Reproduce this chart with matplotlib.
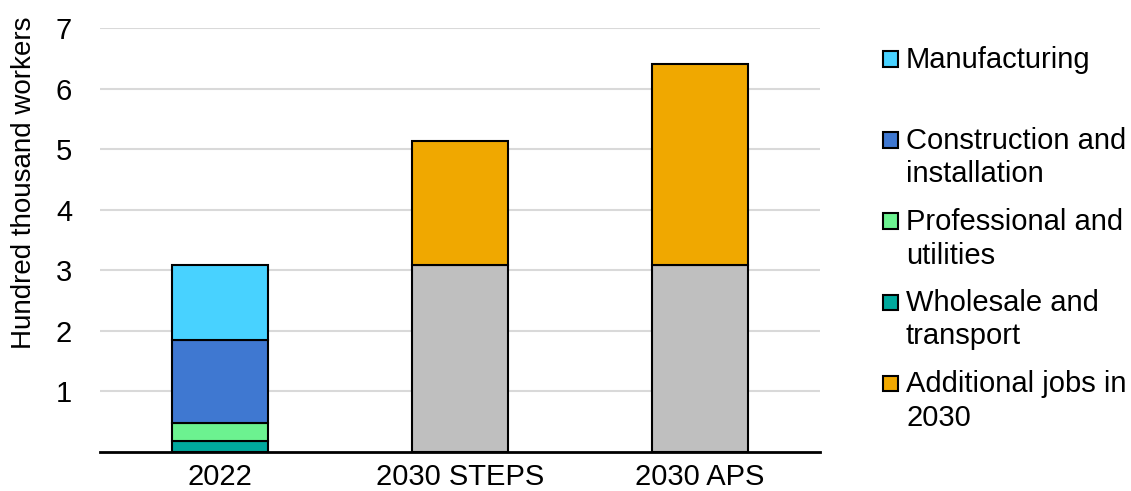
import matplotlib
matplotlib.use("Agg")
import matplotlib.pyplot as plt
import numpy as np
from matplotlib.patches import Rectangle

plt.rcParams['font.family'] = ['Liberation Sans', 'DejaVu Sans']

categories = ['2022', '2030 STEPS', '2030 APS']
wholesale = [0.18, 0, 0]
professional = [0.30, 0, 0]
construction = [1.37, 0, 0]
manufacturing = [1.24, 0, 0]
existing_jobs = [0, 3.09, 3.09]
additional = [0, 2.04, 3.31]

series = [
    ('Wholesale and\ntransport', wholesale, '#00A99D', True),
    ('Professional and\nutilities', professional, '#6CF290', True),
    ('Construction and\ninstallation', construction, '#3F78D1', True),
    ('Manufacturing', manufacturing, '#48D2FF', True),
    ('Existing jobs', existing_jobs, '#BFBFBF', False),
    ('Additional jobs in\n2030', additional, '#F0A800', True),
]

W, H = 1131, 491
fig = plt.figure(figsize=(W / 100, H / 100), dpi=100)
ax = fig.add_axes([100 / W, (H - 452) / H, 720 / W, (452 - 28) / H])

x = np.arange(len(categories))
bottom = np.zeros(len(categories))
for name, vals, col, _ in series:
    v = np.array(vals, dtype=float)
    mask = v > 0
    ax.bar(x[mask], v[mask], bottom=bottom[mask], width=0.4, color=col,
           edgecolor='black', linewidth=1.5, zorder=3)
    bottom += v

ax.set_xlim(-0.5, 2.5)
ax.set_ylim(0, 7)
ax.set_yticks(range(1, 8))
ax.set_xticks(x)
ax.set_xticklabels(categories)
ax.tick_params(axis='both', length=0, labelsize=21)
ax.tick_params(axis='y', pad=20)
ax.tick_params(axis='x', pad=8)
ax.grid(axis='y', color='#D9D9D9', linewidth=1.5, zorder=0)
for s in ['top', 'right', 'left']:
    ax.spines[s].set_visible(False)
ax.spines['bottom'].set_linewidth(2)
ax.spines['bottom'].set_zorder(4)
fig.text(24 / W, (H - 183) / H, 'Hundred thousand workers', fontsize=20,
         rotation=90, ha='center', va='center')

# Manual legend (Excel style, equal spacing)
legend_items = [series[3], series[2], series[1], series[0], series[5]]
top0 = 49
step = 81
for i, (name, vals, col, _) in enumerate(legend_items):
    ytop = top0 + i * step
    yc = ytop + 10
    fig.patches.append(Rectangle((883 / W, (H - yc - 7.5) / H), 15 / W, 15 / H,
                                 transform=fig.transFigure, facecolor=col,
                                 edgecolor='black', linewidth=1.5))
    fig.text(906 / W, (H - ytop + 3) / H, name, fontsize=21, va='top', ha='left',
             linespacing=1.25)

fig.savefig('out.png', dpi=100)
